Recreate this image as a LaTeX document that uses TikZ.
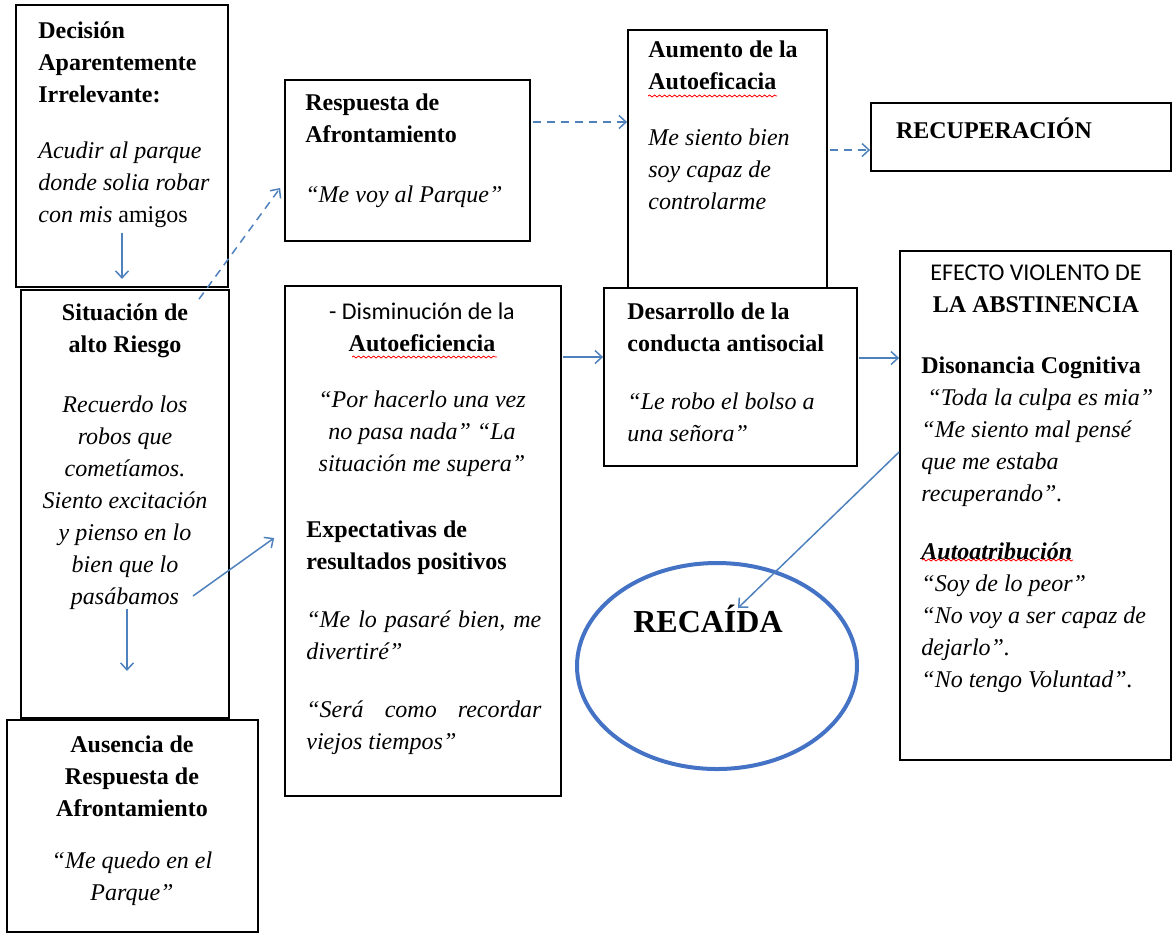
\documentclass[tikz,border=0pt]{standalone}
\usepackage{fontspec}
\setmainfont{Liberation Serif}
\newfontfamily\calib{Carlito}
\usepackage{tikz}
\usetikzlibrary{arrows.meta,shapes.geometric,decorations.pathmorphing}

\definecolor{arrowblue}{RGB}{79,129,189}
\definecolor{ringblue}{RGB}{68,114,196}

\tikzset{
  box/.style={draw, line width=0.9pt, fill=white, inner sep=0pt},
  txt/.style={inner sep=0pt, anchor=north west, align=left, font={\fontsize{12}{16}\selectfont}},
  ctxt/.style={txt, anchor=north, align=center},
  flow/.style={->, draw=arrowblue, line width=0.75pt},
  dflow/.style={flow, dash pattern=on 4pt off 3pt},
  squig/.style={red, line width=0.4pt, decorate, decoration={snake, amplitude=0.5pt, segment length=2.5pt}}
}

\begin{document}
\begin{tikzpicture}[x=0.5pt, y=-0.5pt, >={Straight Barb[length=3.5pt,width=6.5pt]}]
    \useasboundingbox (0,0) rectangle (1172,934);

    % Boxes
    \node[box, minimum width=106pt, minimum height=141pt] (dec) at (122,146) {};
    \node[box, minimum width=104pt, minimum height=214pt] (sit) at (125,504) {};
    \node[box, minimum width=125.5pt, minimum height=106pt] (aus) at (132.5,826) {};
    \node[box, minimum width=122.5pt, minimum height=80.5pt] (resp) at (407.5,160.5) {};
    \node[box, minimum width=138pt, minimum height=255pt] (dism) at (423,541) {};
    \node[box, minimum width=99.5pt, minimum height=132.5pt] (aum) at (727.5,162.5) {};
    \node[box, minimum width=126.5pt, minimum height=89pt] (des) at (730.5,377) {};
    \node[box, minimum width=150pt, minimum height=34pt] (recu) at (1021,137) {};
    \node[box, minimum width=135.5pt, minimum height=254.5pt] (efe) at (1035.5,505.5) {};
    \node[draw=ringblue, line width=2pt, ellipse, minimum width=140pt, minimum height=103pt] (rec) at (717,666) {};

    % Decision
    \node[txt] (dect) at (38,21) {\textbf{Decisión}\\ \textbf{Aparentemente}\\ \textbf{Irrelevante:}\\[12pt]
        \textit{Acudir al parque}\\ \textit{donde solia robar}\\ \textit{con mis} amigos};

    % Respuesta
    \node[txt] (respt) at (305,93) {\textbf{Respuesta de}\\ \textbf{Afrontamiento}\\[14pt] \textit{“Me voy al Parque”}};

    % Aumento
    \node[txt] (aumt) at (648,40) {\textbf{Aumento de la}\\ \textbf{Autoeficacia}\\[12pt]
        \textit{Me siento bien}\\ \textit{soy capaz de}\\ \textit{controlarme}};
    \draw[squig] (648,96) -- (777,96);

    % Recuperacion
    \node[ctxt] (recut) at (994,117) {\textbf{RECUPERACIÓN}};

    % Situacion
    \node[ctxt] (sitt) at (125,303) {\textbf{Situación de}\\ \textbf{alto Riesgo}\\[14pt]
        \textit{Recuerdo los}\\ \textit{robos que}\\ \textit{cometíamos.}\\ \textit{Siento excitación}\\
        \textit{y pienso en lo}\\ \textit{bien que lo}\\ \textit{pasábamos}};

    % Ausencia
    \node[ctxt] (aust) at (132,735) {\textbf{Ausencia de}\\ \textbf{Respuesta de}\\ \textbf{Afrontamiento}\\[10pt]
        \textit{“Me quedo en el}\\ \textit{Parque”}};

    % Disminucion
    \node[ctxt] (dismt) at (422,302) {{\calib - Disminución de la}\\ \textbf{Autoeficiencia}\\[12pt]
        \textit{“Por hacerlo una vez}\\ \textit{no pasa nada” “La}\\ \textit{situación me supera”}};
    \draw[squig] (352,357) -- (497,357);
    \node[txt] (expt) at (306,520) {\textbf{Expectativas de}\\ \textbf{resultados positivos}\\[13pt]
        \itshape\hbox to 117.5pt{“Me\hfill lo\hfill pasaré\hfill bien,\hfill me}\\ \textit{divertiré”}\\[13pt]
        \itshape\hbox to 117.5pt{“Será\hfill como\hfill recordar}\\ \textit{viejos tiempos”}};

    % Desarrollo
    \node[txt] (dest) at (627,302) {\textbf{Desarrollo de la}\\ \textbf{conducta antisocial}\\[13pt]
        \textit{“Le robo el bolso a}\\ \textit{una señora”}};

    % Efecto
    \node[ctxt] (efet) at (1036,265) {{\calib EFECTO VIOLENTO DE}\\ \textbf{LA ABSTINENCIA}};
    \node[txt] (efeb) at (921,356) {\textbf{Disonancia Cognitiva}\\ \ \textit{“Toda la culpa es mia”}\\
        \textit{“Me siento mal pensé}\\ \textit{que me estaba}\\ \textit{recuperando”.}\\[13pt]
        \textbf{\textit{Autoatribución}}\\ \textit{“Soy de lo peor”}\\ \textit{“No voy a ser capaz de}\\
        \textit{dejarlo”.}\\ \textit{“No tengo Voluntad”.}};
    \draw[squig] (922,560) -- (1073,560);

    % Recaida
    \node[inner sep=0pt, font={\fontsize{16}{18}\selectfont\bfseries}] (rect) at (708,619) {RECAÍDA};

    % Arrows
    \draw[flow] ([yshift=27.5pt]dec.south) -- ([yshift=4.5pt]dec.south);
    \draw[flow] ([shift={(2,-110)}]sit.south) -- ([shift={(2,-48)}]sit.south);
    \draw[flow] ([shift={(68,92)}]sit.center) -- ([shift={(-10,-3)}]dism.west);
    \draw[dflow] ([shift={(74,10)}]sit.north) -- ([shift={(-4,27.5)}]resp.west);
    \draw[dflow] ([shift={(2,-38.5)}]resp.east) -- ([shift={(0,-40.5)}]aum.west);
    \draw[dflow] ([shift={(2,-12.5)}]aum.east) -- ([shift={(0,13)}]recu.west);
    \draw[flow] ([shift={(1,-184)}]dism.east) -- ([shift={(0,-20)}]des.west);
    \draw[flow] ([shift={(1,-19)}]des.east) -- ([shift={(0,-147.5)}]efe.west);
    \draw[flow] ([shift={(0,-53.5)}]efe.west) -- ([shift={(30,-11)}]rect.center);
\end{tikzpicture}
\end{document}
